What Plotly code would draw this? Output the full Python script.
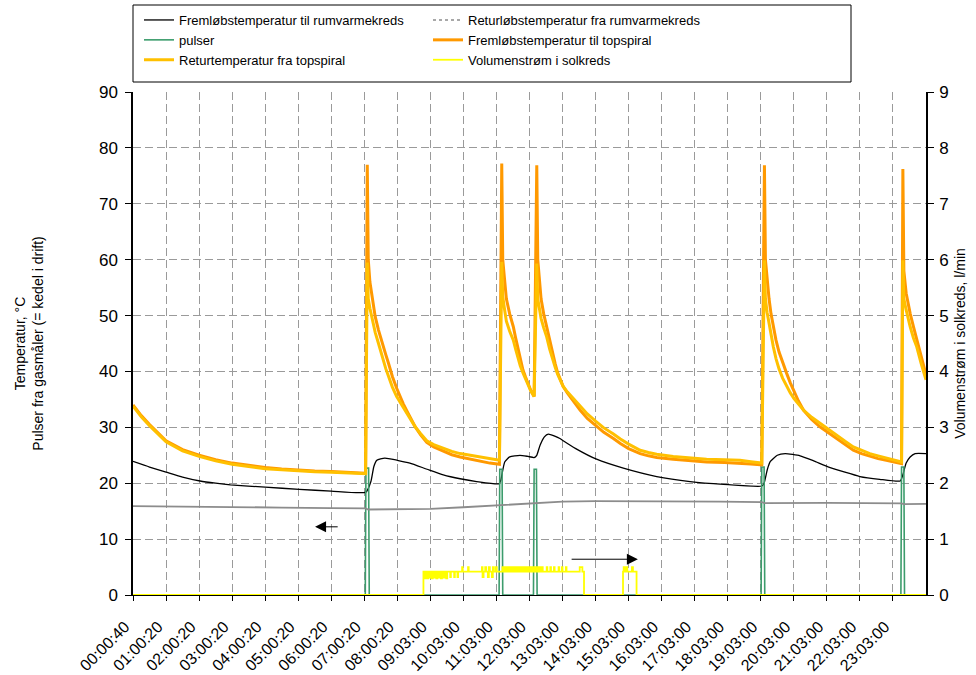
import plotly.graph_objects as go

# ---------------- data (x in hours from start of the day) ----------------
tick_hours = list(range(24))
tick_labels = ["00:00:40", "01:00:20", "02:00:20", "03:00:20", "04:00:20", "05:00:20",
               "06:00:20", "07:00:20", "08:00:20", "09:03:00", "10:03:00", "11:03:00",
               "12:03:00", "13:03:00", "14:03:00", "15:03:00", "16:03:00", "17:03:00",
               "18:03:00", "19:03:00", "20:03:00", "21:03:00", "22:03:00", "23:03:00"]

# Fremløb / retur topspiral
spiral_h = [0.00, 0.25, 0.50, 0.75, 1.00, 1.50, 2.00, 2.50, 3.00, 3.50, 4.00, 4.50, 5.00, 5.50, 6.00, 6.50, 7.04,
            # event 1
            7.09, 7.12, 7.17, 7.25, 7.33, 7.43, 7.50, 7.58, 7.65, 7.73, 7.85, 7.98, 8.08, 8.18, 8.30, 8.42,
            8.54, 8.70, 8.89, 9.10, 9.40, 9.65, 9.90, 10.20, 10.50, 10.80, 11.09,
            # event 2
            11.16, 11.19, 11.24, 11.30, 11.40, 11.51, 11.58, 11.65, 11.72, 11.80, 11.88, 11.95, 12.04, 12.14,
            # event 3
            12.22, 12.25, 12.30, 12.35, 12.43, 12.52, 12.61, 12.70, 12.78, 12.85, 12.93, 13.02, 13.15, 13.30,
            13.53, 13.75, 14.00, 14.25, 14.54, 14.75, 15.00, 15.35, 15.60, 15.85, 16.35, 16.85, 17.36, 17.90,
            18.37, 18.70, 19.03,
            # event 4
            19.11, 19.14, 19.19, 19.25, 19.31, 19.38, 19.46, 19.55, 19.66, 19.78, 19.89, 20.00, 20.14, 20.29,
            20.54, 20.79, 21.05, 21.30, 21.55, 21.80, 22.05, 22.30, 22.55, 22.80, 23.03, 23.26,
            # event 5
            23.30, 23.33, 23.40, 23.47, 23.52, 23.62, 23.72, 23.85, 23.97, 24.00]
frem_top = [34.0, 32.1, 30.5, 29.0, 27.6, 26.0, 25.0, 24.2, 23.6, 23.2, 22.8, 22.55, 22.35, 22.2, 22.1, 21.95, 21.8,
            77.0, 60.0, 56.0, 52.5, 49.8, 47.4, 45.9, 44.4, 43.0, 41.5, 39.1, 37.0, 35.5, 34.2, 32.8, 31.4,
            30.1, 28.7, 27.3, 26.5, 25.7, 25.1, 24.7, 24.3, 23.9, 23.6, 23.4,
            77.2, 60.0, 56.0, 53.0, 50.3, 48.0, 46.0, 44.0, 42.0, 40.3, 39.0, 37.8, 36.6, 35.5,
            76.9, 60.0, 56.0, 53.0, 50.3, 48.0, 45.3, 43.0, 41.3, 39.8, 38.5, 37.3, 36.1, 34.9,
            33.1, 31.6, 30.3, 29.1, 28.0, 27.1, 26.2, 25.3, 24.9, 24.6, 24.3, 24.0, 23.8, 23.7,
            23.6, 23.45, 23.3,
            76.9, 60.0, 56.0, 53.0, 50.3, 48.0, 45.6, 43.5, 41.5, 39.7, 38.0, 36.5, 34.7, 33.1,
            31.4, 30.1, 29.0, 28.0, 26.9, 25.9, 25.3, 24.8, 24.4, 24.1, 23.8, 23.5,
            76.2, 58.0, 54.0, 51.6, 50.4, 48.0, 45.6, 42.6, 39.7, 39.4]
retur_top = [33.8, 31.9, 30.3, 28.8, 27.4, 25.8, 24.8, 24.0, 23.4, 23.0, 22.6, 22.4, 22.2, 22.05, 21.95, 21.8, 21.7,
             59.5, 53.0, 51.3, 49.0, 47.0, 45.0, 43.5, 41.8, 40.5, 39.2, 37.2, 35.5, 34.5, 33.5, 32.4, 31.2,
             30.1, 28.9, 27.6, 26.9, 26.2, 25.7, 25.3, 25.0, 24.7, 24.4, 24.1,
             59.6, 53.4, 51.3, 49.0, 47.2, 45.6, 44.0, 42.5, 41.0, 39.8, 38.6, 37.6, 36.5, 35.5,
             59.3, 53.0, 51.2, 49.5, 47.8, 46.2, 44.0, 42.0, 40.7, 39.5, 38.4, 37.3, 36.3, 35.3,
             33.8, 32.4, 31.1, 29.9, 28.8, 27.9, 27.0, 25.9, 25.5, 25.2, 24.8, 24.5, 24.3, 24.2,
             24.1, 23.85, 23.6,
             59.9, 53.0, 50.6, 48.5, 46.3, 44.4, 42.3, 40.5, 38.8, 37.3, 36.2, 35.2, 34.1, 33.1,
             31.8, 30.7, 29.6, 28.6, 27.5, 26.5, 25.9, 25.3, 24.9, 24.5, 24.1, 23.8,
             59.9, 53.0, 51.0, 49.0, 48.0, 46.0, 44.4, 41.5, 38.8, 38.5]

# Fremløbstemperatur til rumvarmekreds
rum_frem_h = [0.00, 0.50, 1.00, 1.50, 2.03, 2.50, 2.95, 4.00, 5.03, 6.00, 7.05,
              7.20, 7.29, 7.38, 7.62, 8.00, 8.38, 8.90, 9.39, 9.90, 10.40, 11.08,
              11.13, 11.25, 11.40, 11.71, 11.95, 12.14,
              12.22, 12.32, 12.45, 12.57, 12.92, 13.02, 13.40, 14.03, 14.84, 15.85, 16.86, 17.87, 19.03,
              19.10, 19.20, 19.29, 19.50, 19.74, 20.19, 20.60, 21.10, 22.00, 22.60, 23.22,
              23.30, 23.40, 23.52, 23.67, 24.00]
rum_frem = [23.9, 22.9, 22.0, 21.1, 20.4, 20.0, 19.7, 19.3, 18.9, 18.6, 18.4,
            20.3, 23.0, 24.1, 24.5, 24.1, 23.6, 22.5, 21.5, 20.8, 20.3, 19.9,
            20.5, 23.8, 24.7, 25.0, 24.8, 24.6,
            25.0, 26.8, 28.3, 28.8, 28.0, 27.6, 26.2, 24.3, 22.7, 21.2, 20.3, 19.8, 19.5,
            20.0, 22.5, 23.9, 25.0, 25.3, 24.9, 24.0, 22.8, 21.2, 20.7, 20.4,
            21.5, 23.6, 24.7, 25.3, 25.3]

# Returløbstemperatur fra rumvarmekreds
rum_retur_h = [0.00, 1.50, 3.00, 4.50, 6.00, 7.04, 7.12, 8.00, 9.00, 10.00, 11.10, 12.14, 13.00,
               14.00, 15.00, 16.00, 17.77, 19.03, 19.12, 21.00, 23.26, 23.32, 24.00]
rum_retur = [15.9, 15.85, 15.7, 15.65, 15.55, 15.5, 15.3, 15.35, 15.4, 15.7, 16.1, 16.4, 16.7,
             16.8, 16.8, 16.8, 16.7, 16.6, 16.45, 16.5, 16.4, 16.25, 16.3]

# pulser fra gasmåler
pulse_h = [0.00, 7.03, 7.05, 7.13, 7.15, 11.08, 11.10, 11.17, 11.19, 12.12, 12.14, 12.21, 12.23,
           19.01, 19.03, 19.10, 19.12, 23.24, 23.26, 23.33, 23.35, 24.00]
pulse_v = [0, 0, 22.7, 22.7, 0, 0, 22.5, 22.5, 0, 0, 22.5, 22.5, 0,
           0, 22.9, 22.9, 0, 0, 22.9, 22.9, 0, 0]

# Volumenstrøm i solkreds, l/min (right axis)
vol_h = [0.00, 8.79,
         8.83, 8.86, 8.90, 8.93, 8.97, 9.00, 9.04, 9.07, 9.11, 9.14, 9.18, 9.21, 9.25, 9.28, 9.32, 9.35,
         9.40, 9.43, 9.48, 9.51,
         9.60, 9.62, 9.72, 9.74, 9.82, 9.84,
         9.96, 9.98, 10.14, 10.16,
         10.56, 10.58, 10.61, 10.66, 10.69, 10.74, 10.77, 10.80, 10.86, 10.89, 10.92, 10.98, 11.01,
         11.18, 11.21, 11.24, 11.27, 11.30, 11.34, 11.37, 11.41, 11.44, 11.48, 11.51, 11.55, 11.58, 11.62,
         11.65, 11.69, 11.72, 11.76, 11.79, 11.83, 11.86, 11.90, 11.93, 11.97, 12.00, 12.04, 12.07, 12.11,
         12.14, 12.18, 12.21, 12.25, 12.28, 12.32, 12.36, 12.40,
         12.52, 12.54, 12.63, 12.65, 12.74, 12.76, 12.88, 12.90, 12.98, 13.00, 13.10, 13.12, 13.52, 13.60,
         13.65,
         14.83, 14.85, 14.88, 14.92, 14.96, 15.10, 15.13, 15.24,
         24.00]
vol_v = [0.00, 0.42,
         0.30, 0.42, 0.30, 0.42, 0.31, 0.42, 0.30, 0.42, 0.31, 0.42, 0.30, 0.42, 0.31, 0.42, 0.30, 0.42,
         0.31, 0.42, 0.30, 0.42,
         0.32, 0.42, 0.32, 0.42, 0.32, 0.42,
         0.50, 0.42, 0.50, 0.42,
         0.50, 0.32, 0.42, 0.50, 0.42, 0.32, 0.50, 0.42, 0.32, 0.50, 0.42, 0.50, 0.42,
         0.50, 0.42, 0.50, 0.42, 0.50, 0.42, 0.50, 0.42, 0.50, 0.42, 0.50, 0.42, 0.50, 0.42,
         0.50, 0.42, 0.50, 0.42, 0.50, 0.42, 0.50, 0.42, 0.50, 0.42, 0.50, 0.42, 0.50, 0.42,
         0.50, 0.42, 0.50, 0.42, 0.50, 0.42, 0.50, 0.42,
         0.50, 0.42, 0.50, 0.42, 0.50, 0.42, 0.50, 0.42, 0.50, 0.42, 0.50, 0.42, 0.50, 0.42,
         0.00,
         0.42, 0.50, 0.42, 0.50, 0.42, 0.50, 0.42, 0.00,
         0.00]

# arrows (data coords, left axis): [tail_x, head_x, y]
arrow_left = [6.24, 5.51, 12.2]
arrow_right = [13.23, 15.28, 6.4]

# ---------------- figure ----------------
FONT = "Liberation Sans, Arial, sans-serif"
fig = go.Figure()

fig.add_trace(go.Scatter(x=rum_frem_h, y=rum_frem, mode="lines", name="Fremløbstemperatur til rumvarmekreds",
                         line=dict(color="#000000", width=1.3, shape="spline", smoothing=0.5)))
# legend-only entry for dotted grey series
fig.add_trace(go.Scatter(x=[None], y=[None], mode="lines", name="Returløbstemperatur fra rumvarmekreds",
                         line=dict(color="#8c8c8c", width=1.5, dash="dot")))
fig.add_trace(go.Scatter(x=pulse_h, y=pulse_v, mode="lines", name="pulser",
                         line=dict(color="#3c9c6c", width=1.6)))
fig.add_trace(go.Scatter(x=spiral_h, y=frem_top, mode="lines", name="Fremløbstemperatur til topspiral",
                         line=dict(color="#FF9900", width=3)))
fig.add_trace(go.Scatter(x=spiral_h, y=retur_top, mode="lines", name="Returtemperatur fra topspiral",
                         line=dict(color="#FFC000", width=3)))
fig.add_trace(go.Scatter(x=vol_h, y=vol_v, mode="lines", name="Volumenstrøm i solkreds", yaxis="y2",
                         line=dict(color="#FFFF00", width=1.8, shape="hv")))
# grey series drawn (solid look as in the original)
fig.add_trace(go.Scatter(x=rum_retur_h, y=rum_retur, mode="lines", showlegend=False,
                         name="Returløbstemperatur fra rumvarmekreds",
                         line=dict(color="#8c8c8c", width=1.8)))

grid = dict(gridcolor="#9a9a9a", gridwidth=1, griddash="8px,4px")

fig.update_layout(
    width=976, height=675,
    margin=dict(l=133, r=50, t=92, b=80),
    paper_bgcolor="white", plot_bgcolor="white",
    font=dict(family=FONT, color="black"),
    showlegend=True,
    legend=dict(orientation="h", xref="container", yref="container",
                x=139 / 976, xanchor="left", y=1 - 5 / 675, yanchor="top",
                entrywidth=244, entrywidthmode="pixels",
                font=dict(size=13, family=FONT, color="black"),
                bgcolor="rgba(0,0,0,0)", borderwidth=0, traceorder="normal"),
    xaxis=dict(range=[0, 24], tickmode="array", tickvals=tick_hours, ticktext=tick_labels,
               tickangle=-45, ticks="outside", ticklen=5, tickcolor="black",
               showline=True, linecolor="black", linewidth=1.2, zeroline=False,
               tickfont=dict(size=16, family=FONT), ticklabelstandoff=10, ticklabelshift=-8,
               showgrid=True, automargin=False, **grid),
    yaxis=dict(range=[0, 90], dtick=10, ticks="outside", ticklen=6, tickcolor="black",
               showline=True, linecolor="black", linewidth=1.5, zeroline=False,
               tickfont=dict(size=17, family=FONT), ticklabelstandoff=4, showgrid=True, **grid,
               title=dict(text="Temperatur, °C<br>Pulser fra gasmåler (= kedel i drift)",
                          font=dict(size=14, family=FONT), standoff=52),
               automargin=False),
    yaxis2=dict(range=[0, 9], dtick=1, overlaying="y", side="right", ticks="outside", ticklen=6,
                tickcolor="black", showline=True, linecolor="black", linewidth=1.5, zeroline=False,
                showgrid=False, tickfont=dict(size=17, family=FONT), ticklabelstandoff=2,
                title=dict(text="Volumenstrøm i solkreds, l/min", font=dict(size=14, family=FONT),
                           standoff=8),
                automargin=False),
    shapes=[dict(type="rect", xref="paper", yref="paper", x0=0.0, x1=(851 - 133) / 793,
                 y0=(595 - 82) / 503, y1=(595 - 5) / 503, line=dict(color="black", width=1),
                 fillcolor="white", layer="below")],
    annotations=[
        dict(x=arrow_left[1], y=arrow_left[2], ax=arrow_left[0], ay=arrow_left[2], xref="x", yref="y",
             axref="x", ayref="y", text="", showarrow=True, arrowhead=2, arrowsize=2.2,
             arrowwidth=1, arrowcolor="black"),
        dict(x=arrow_right[1], y=arrow_right[2], ax=arrow_right[0], ay=arrow_right[2], xref="x", yref="y",
             axref="x", ayref="y", text="", showarrow=True, arrowhead=2, arrowsize=2.2,
             arrowwidth=1, arrowcolor="black"),
    ],
)

fig.write_html("out.html", config={"displayModeBar": False},
               post_script="document.body.style.margin='0';document.body.style.overflow='hidden';")
